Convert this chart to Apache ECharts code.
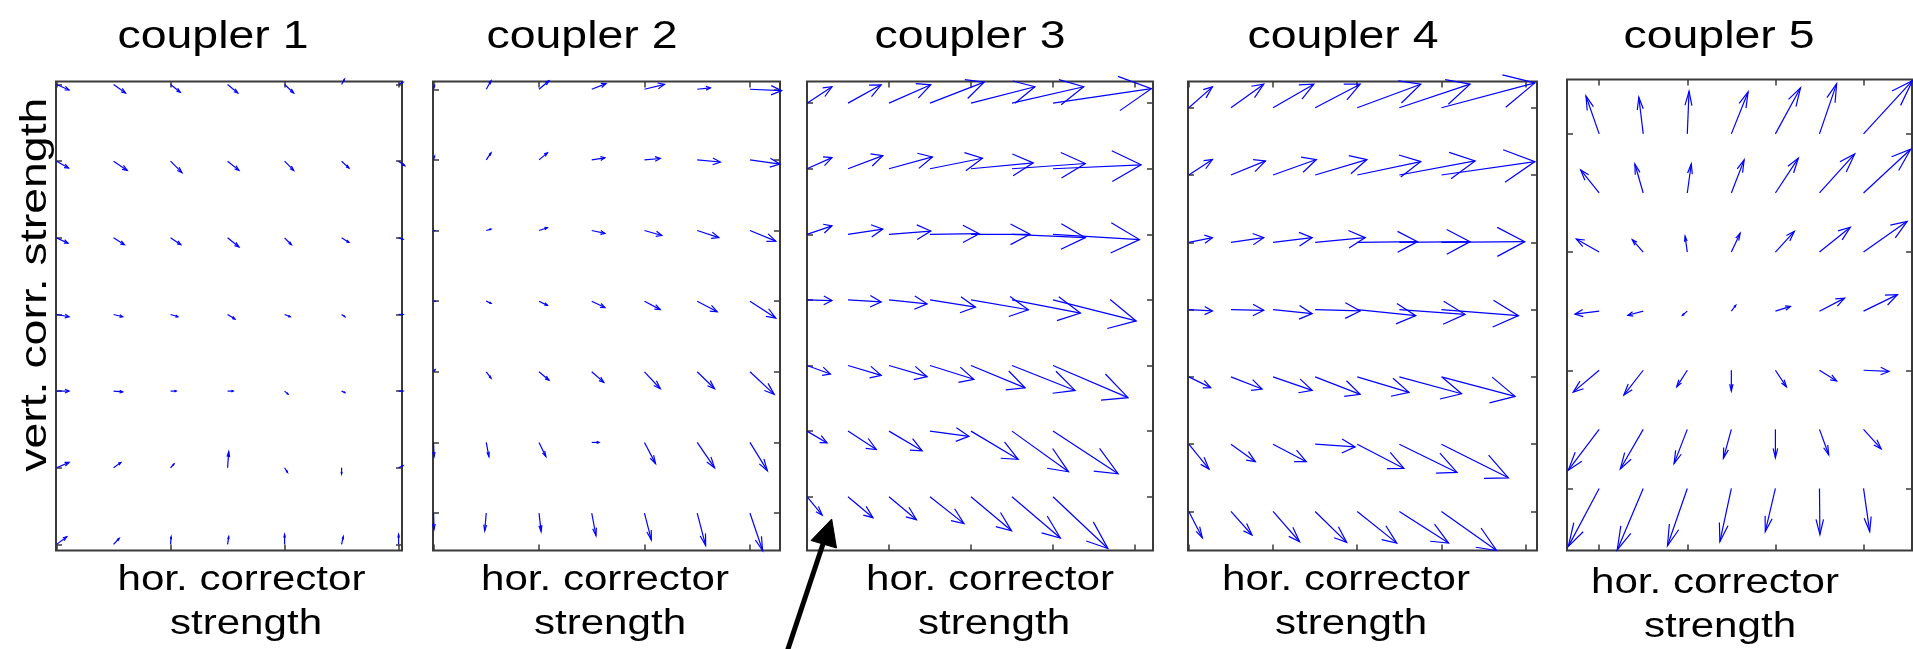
<!DOCTYPE html>
<html>
<head>
<meta charset="utf-8">
<script src="https://cdn.jsdelivr.net/npm/echarts@6/dist/echarts.min.js"></script>
<style>
html,body{margin:0;padding:0;background:#fff;}
#chart{width:1913px;height:649px;}
</style>
</head>
<body>
<div id="chart"></div>
<script>
// ---------------- data ----------------
const TITLES = ['coupler 1', 'coupler 2', 'coupler 3', 'coupler 4', 'coupler 5'];
const X_LABEL_1 = 'hor. corrector';
const X_LABEL_2 = 'strength';
const Y_LABEL = 'vert. corr. strength';

// grid point positions (column index / row index)
const X_COLS = [0, 1, 2, 3, 4, 5, 6];
const Y_ROWS = [6, 5, 4, 3, 2, 1, 0]; // rows listed from top to bottom

// axis extents per panel
const X_RANGE = [[-0.01, 6.06], [-0.01, 6.57], [0, 8.44], [-0.02, 8.27], [-0.73, 7.10]];
const Y_RANGE = [[-0.08, 6.04], [-0.53, 6.11], [-0.82, 6.33], [-0.58, 6.39], [-1.05, 6.92]];

// tick positions per panel
const X_TICKS = [[0, 2, 4, 6], [0, 2, 4, 6], [0, 2, 4, 6, 8], [0, 2, 4, 6, 8], [0, 2, 4, 6]];
const Y_TICKS = [[0, 1, 2, 3, 4, 5, 6], [0, 1, 2, 3, 4, 5, 6], [0, 1, 2, 3, 4, 5, 6], [0, 1, 2, 3, 4, 5, 6], [0, 2, 4, 6]];

// vector components (rows top -> bottom, columns left -> right)
const U1 = [
  [0.22, 0.21, 0.17, 0.18, 0.16, 0.05, 0.08],
  [0.21, 0.24, 0.20, 0.20, 0.16, 0.13, 0.11],
  [0.20, 0.19, 0.18, 0.20, 0.12, 0.13, 0.08],
  [0.22, 0.16, 0.13, 0.13, 0.10, 0.06, 0.08],
  [0.22, 0.16, 0.10, 0.10, 0.06, 0.06, 0.08],
  [0.22, 0.13, 0.06, 0.02, 0.05, 0.00, 0.08],
  [0.18, 0.10, 0.01, 0.02, 0.00, 0.03, 0.00]
];
const V1 = [
  [-0.07, -0.11, -0.10, -0.11, -0.11, 0.07, 0.03],
  [-0.09, -0.12, -0.15, -0.12, -0.12, -0.09, -0.06],
  [-0.07, -0.09, -0.09, -0.12, -0.09, -0.06, -0.02],
  [-0.03, -0.03, -0.03, -0.06, -0.03, -0.03, 0.00],
  [0.00, -0.01, 0.00, 0.00, -0.04, -0.02, 0.00],
  [0.07, 0.07, 0.05, 0.21, -0.06, -0.08, 0.03],
  [0.10, 0.08, 0.10, 0.10, 0.13, 0.10, 0.13]
];
const U2 = [
  [0.02, 0.09, 0.19, 0.27, 0.38, 0.25, 0.60],
  [0.02, 0.09, 0.16, 0.25, 0.30, 0.44, 0.57],
  [0.02, 0.09, 0.16, 0.25, 0.33, 0.41, 0.49],
  [0.03, 0.09, 0.16, 0.25, 0.30, 0.38, 0.49],
  [0.03, 0.09, 0.19, 0.23, 0.30, 0.33, 0.46],
  [0.01, 0.05, 0.13, 0.14, 0.21, 0.33, 0.33],
  [0.01, -0.03, 0.04, 0.08, 0.13, 0.16, 0.24]
];
const V2 = [
  [0.05, 0.12, 0.12, 0.08, 0.07, 0.02, -0.02],
  [0.05, 0.10, 0.10, 0.03, 0.02, -0.03, -0.06],
  [0.00, 0.02, 0.04, -0.04, -0.07, -0.10, -0.15],
  [0.00, -0.03, -0.06, -0.09, -0.12, -0.15, -0.24],
  [0.03, -0.09, -0.12, -0.15, -0.24, -0.24, -0.32],
  [-0.20, -0.20, -0.20, 0.00, -0.30, -0.36, -0.40],
  [-0.23, -0.25, -0.26, -0.32, -0.38, -0.46, -0.53]
];
const U3 = [
  [0.61, 0.81, 1.02, 1.32, 1.56, 1.75, 2.40],
  [0.61, 0.85, 1.06, 1.28, 1.52, 1.79, 2.15],
  [0.61, 0.85, 1.02, 1.20, 1.44, 1.79, 2.11],
  [0.61, 0.81, 0.93, 1.11, 1.40, 1.67, 2.03],
  [0.57, 0.81, 0.93, 1.07, 1.32, 1.54, 1.83],
  [0.49, 0.69, 0.81, 0.95, 1.15, 1.38, 1.59],
  [0.37, 0.61, 0.67, 0.83, 0.99, 1.18, 1.34]
];
const V3 = [
  [0.25, 0.28, 0.28, 0.32, 0.25, 0.25, 0.22],
  [0.17, 0.20, 0.18, 0.16, 0.09, 0.08, 0.06],
  [0.13, 0.08, 0.05, 0.01, 0.00, -0.05, -0.08],
  [-0.01, -0.03, -0.06, -0.11, -0.15, -0.20, -0.32],
  [-0.13, -0.15, -0.17, -0.21, -0.34, -0.38, -0.49],
  [-0.18, -0.28, -0.30, -0.08, -0.43, -0.62, -0.65],
  [-0.28, -0.32, -0.35, -0.41, -0.52, -0.63, -0.79]
];
const U4 = [
  [0.56, 0.78, 0.97, 1.07, 1.51, 1.68, 2.22],
  [0.56, 0.82, 1.03, 1.23, 1.51, 1.80, 2.22],
  [0.56, 0.78, 0.93, 1.19, 1.43, 1.68, 1.98],
  [0.56, 0.78, 0.93, 1.07, 1.39, 1.56, 1.83],
  [0.52, 0.74, 0.93, 1.07, 1.23, 1.48, 1.75],
  [0.48, 0.58, 0.79, 0.95, 1.11, 1.37, 1.59],
  [0.32, 0.50, 0.63, 0.75, 0.94, 1.17, 1.31]
];
const V4 = [
  [0.31, 0.35, 0.35, 0.35, 0.35, 0.35, 0.37],
  [0.23, 0.21, 0.23, 0.23, 0.20, 0.21, 0.20],
  [0.07, 0.07, 0.07, 0.07, 0.01, 0.01, 0.01],
  [-0.02, -0.01, -0.06, -0.02, -0.09, -0.07, -0.09],
  [-0.16, -0.18, -0.20, -0.26, -0.23, -0.25, -0.29],
  [-0.37, -0.26, -0.26, -0.04, -0.36, -0.42, -0.50],
  [-0.39, -0.35, -0.45, -0.46, -0.47, -0.47, -0.58]
];
const U5 = [
  [-0.30, -0.10, 0.04, 0.38, 0.57, 0.39, 1.11],
  [-0.42, -0.19, 0.09, 0.29, 0.52, 0.80, 1.07],
  [-0.52, -0.25, -0.05, 0.20, 0.43, 0.70, 0.99],
  [-0.55, -0.35, -0.11, 0.10, 0.34, 0.57, 0.77],
  [-0.59, -0.44, -0.24, 0.00, 0.25, 0.39, 0.58],
  [-0.70, -0.52, -0.30, -0.18, 0.00, 0.21, 0.40],
  [-0.70, -0.59, -0.45, -0.26, -0.23, 0.01, 0.14]
];
const V5 = [
  [0.64, 0.62, 0.72, 0.71, 0.78, 0.85, 0.90],
  [0.39, 0.49, 0.49, 0.56, 0.59, 0.66, 0.74],
  [0.22, 0.21, 0.27, 0.32, 0.35, 0.42, 0.52],
  [-0.05, -0.07, -0.07, 0.10, 0.08, 0.22, 0.28],
  [-0.37, -0.42, -0.28, -0.35, -0.28, -0.18, -0.02],
  [-0.69, -0.67, -0.58, -0.49, -0.48, -0.43, -0.33],
  [-0.98, -1.04, -0.97, -0.90, -0.73, -0.78, -0.73]
];
const U_ALL = [U1, U2, U3, U4, U5];
const V_ALL = [V1, V2, V3, V4, V5];

// ---------------- layout / style ----------------
const GRID_BOX = [
  [56, 81.5, 346, 469],
  [433, 81.5, 347, 469],
  [807, 81.5, 346, 469],
  [1188, 81.5, 349, 469],
  [1567, 79.5, 345, 471]
];
const TITLE_X = [213, 582, 970, 1343, 1719];
const XL1_X = [241.5, 605, 990, 1346, 1715];
const XL2_X = [246, 610, 994, 1351, 1720];
const XL_DY = [0, 0, 0, 0, 2.5];
const FONT = '"Liberation Sans", Arial, Helvetica, sans-serif';
const FRAME = '#3a3a3a';
const ARROW = '#0000ff';
const STRETCH = 1.22;

function quiverData(p) {
  const out = [];
  Y_ROWS.forEach((yv, r) => {
    X_COLS.forEach((xv, c) => {
      out.push([xv, yv, U_ALL[p][r][c], V_ALL[p][r][c]]);
    });
  });
  return out;
}

function renderArrow(params, api) {
  const x = api.value(0), y = api.value(1), u = api.value(2), v = api.value(3);
  const a = 0.33, b = 0.33;
  const p0 = api.coord([x, y]);
  const p1 = api.coord([x + u, y + v]);
  const h1 = api.coord([x + u - a * (u + b * v), y + v - a * (v - b * u)]);
  const h2 = api.coord([x + u - a * (u - b * v), y + v - a * (v + b * u)]);
  const st = { stroke: ARROW, lineWidth: 1.2, fill: null };
  return {
    type: 'group',
    children: [
      { type: 'polyline', shape: { points: [p0, p1] }, style: st },
      { type: 'polyline', shape: { points: [h1, p1, h2] }, style: st }
    ]
  };
}

const grids = [], xAxes = [], yAxes = [], series = [];
for (let p = 0; p < 5; p++) {
  const g = GRID_BOX[p];
  grids.push({ left: g[0], top: g[1], width: g[2], height: g[3], show: true,
    borderColor: FRAME, borderWidth: 2, backgroundColor: '#fff' });
  const tickStyle = { show: true, inside: true, length: 6, lineStyle: { color: FRAME, width: 1.5 } };
  ['bottom', 'top'].forEach(pos => {
    xAxes.push({ type: 'value', gridIndex: p, position: pos, min: X_RANGE[p][0], max: X_RANGE[p][1],
      axisLine: { show: false, onZero: false }, splitLine: { show: false }, axisLabel: { show: false },
      axisTick: Object.assign({ customValues: X_TICKS[p] }, tickStyle) });
  });
  ['left', 'right'].forEach(pos => {
    yAxes.push({ type: 'value', gridIndex: p, position: pos, min: Y_RANGE[p][0], max: Y_RANGE[p][1],
      axisLine: { show: false, onZero: false }, splitLine: { show: false }, axisLabel: { show: false },
      axisTick: Object.assign({ customValues: Y_TICKS[p] }, tickStyle) });
  });
  series.push({ type: 'custom', name: TITLES[p], xAxisIndex: 2 * p, yAxisIndex: 2 * p,
    data: quiverData(p), renderItem: renderArrow, clip: false, silent: true });
}

const graphics = [];
for (let p = 0; p < 5; p++) {
  graphics.push({ type: 'text', x: TITLE_X[p], y: 37, scaleX: 1.19, silent: true,
    style: { text: TITLES[p], fontSize: 39, fontFamily: FONT, fill: '#000', align: 'center', verticalAlign: 'middle' } });
  graphics.push({ type: 'text', x: XL1_X[p], y: 580.5 + XL_DY[p], scaleX: STRETCH, silent: true,
    style: { text: X_LABEL_1, fontSize: 34.5, fontFamily: FONT, fill: '#000', align: 'center', verticalAlign: 'middle' } });
  graphics.push({ type: 'text', x: XL2_X[p], y: 624.5 + XL_DY[p], scaleX: STRETCH, silent: true,
    style: { text: X_LABEL_2, fontSize: 34.5, fontFamily: FONT, fill: '#000', align: 'center', verticalAlign: 'middle' } });
}
graphics.push({ type: 'text', x: 36.3, y: 284.7, rotation: Math.PI / 2, scaleX: 1.29, silent: true,
  style: { text: Y_LABEL, fontSize: 36, fontFamily: FONT, fill: '#000', align: 'center', verticalAlign: 'middle' } });
// annotation pointer below coupler 3
graphics.push({ type: 'polyline', silent: true, shape: { points: [[786, 655], [825, 538]] },
  style: { stroke: '#000', lineWidth: 5, fill: null } });
graphics.push({ type: 'polygon', silent: true, shape: { points: [[831.7, 519], [811, 540.5], [836.5, 548]] },
  style: { fill: '#000', stroke: '#000', lineWidth: 1 } });

const chart = echarts.init(document.getElementById('chart'), null, { renderer: 'canvas' });
chart.setOption({
  animation: false,
  backgroundColor: '#fff',
  grid: grids,
  xAxis: xAxes,
  yAxis: yAxes,
  series: series,
  graphic: graphics
});
</script>
</body>
</html>
